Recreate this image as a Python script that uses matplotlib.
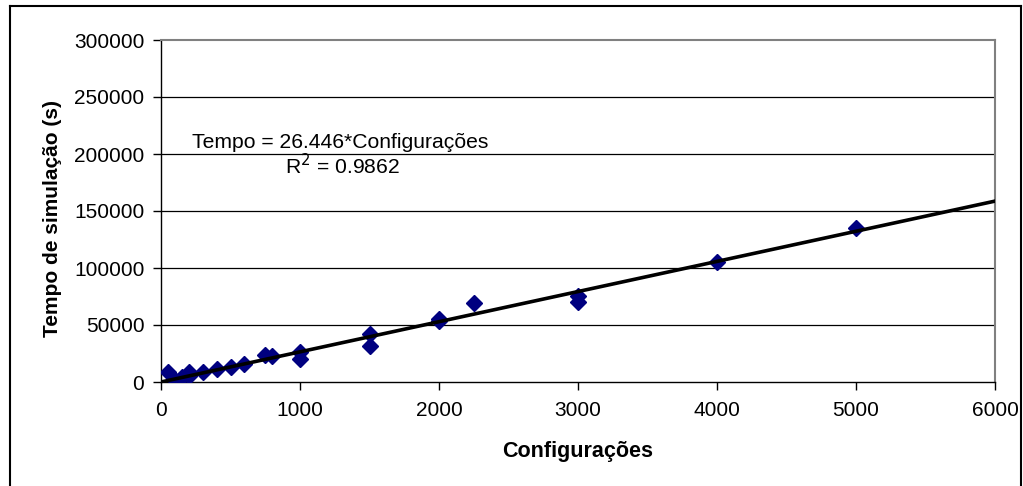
import matplotlib
matplotlib.use("Agg")
import matplotlib.pyplot as plt
from matplotlib.lines import Line2D
import numpy as np

plt.rcParams['font.family'] = ['Liberation Sans', 'DejaVu Sans']

configuracoes = [50, 100, 150, 200, 200, 300, 400, 500, 600, 750, 800, 1000, 1000,
                 1500, 1500, 2000, 2000, 2250, 3000, 3000, 4000, 5000]
tempo = [9000, 2000, 4000, 8500, 5000, 9000, 11000, 13500, 16000, 23500, 23000, 26500, 20000,
         42000, 31500, 55000, 53500, 69500, 75500, 70500, 105000, 135000]
slope = 26.446
r2 = 0.9862
xticks = [0, 1000, 2000, 3000, 4000, 5000, 6000]
yticks = [0, 50000, 100000, 150000, 200000, 250000, 300000]

W, H = 1023, 486
fig = plt.figure(figsize=(W / 100, H / 100), dpi=100)
ax = fig.add_axes([161 / W, (H - 382) / H, (995 - 161) / W, (382 - 40) / H])

ax.set_xlim(0, 6000)
ax.set_ylim(0, 300000)
for y in yticks[1:-1]:
    ax.axhline(y, color='#000000', lw=0.9, zorder=1)

ax.plot(configuracoes, tempo, linestyle='none', marker='D', markersize=8,
        color='#000080', zorder=3)
xl = np.array([0, 6000])
ax.plot(xl, slope * xl, color='black', lw=2.6, zorder=4)

ax.set_xticks(xticks)
ax.set_yticks(yticks)
ax.set_xticklabels([str(v) for v in xticks])
ax.set_yticklabels([str(v) for v in yticks])
ax.tick_params(direction='out', length=6, width=1, labelsize=15, pad=6)
ax.tick_params(axis='x', pad=8)

for s in ['top', 'right']:
    ax.spines[s].set_color('#808080')
    ax.spines[s].set_linewidth(1.5)
for s in ['left', 'bottom']:
    ax.spines[s].set_color('black')
    ax.spines[s].set_linewidth(1)

ax.set_xlabel('Configurações', fontsize=15.5, fontweight='bold', labelpad=15)
ax.set_ylabel('Tempo de simulação (s)', fontsize=15, fontweight='bold')
ax.yaxis.set_label_coords(-(161 - 62) / (995 - 161), 0.477)

fig.text(192 / W, 1 - 142 / H, 'Tempo = 26.446*Configurações', fontsize=15.2,
         ha='left', va='center')
fig.text(285 / W, 1 - 166 / H, r'R$^2$ = 0.9862', fontsize=15.2,
         ha='left', va='center')

# outer chart border
bx0, bx1, by0 = 10 / W, 1021 / W, 1 - 6 / H
fig.add_artist(Line2D([bx0, bx0], [0, by0], color='black', lw=1.5, transform=fig.transFigure))
fig.add_artist(Line2D([bx0, bx1], [by0, by0], color='black', lw=1.5, transform=fig.transFigure))
fig.add_artist(Line2D([bx1, bx1], [0, by0], color='black', lw=1.5, transform=fig.transFigure))

fig.savefig('out.png', dpi=100)
